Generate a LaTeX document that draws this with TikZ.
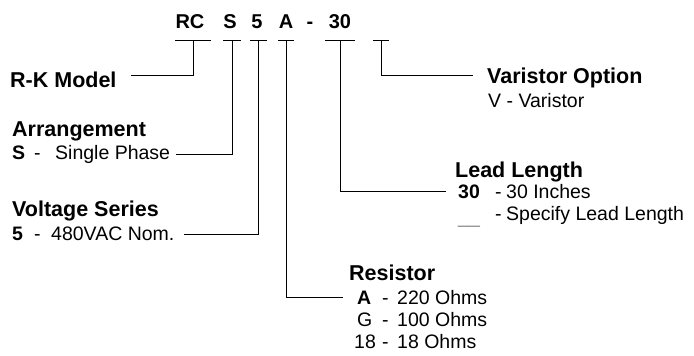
\documentclass[tikz,border=0pt]{standalone}
\usepackage{fontspec}
\setmainfont{Liberation Sans}
\tikzset{
  code/.style={anchor=base, inner sep=0pt, font=\fontsize{20}{24}\selectfont\bfseries},
  head/.style={anchor=base west, inner sep=0pt, font=\fontsize{21.5}{24}\selectfont\bfseries},
  txt/.style={anchor=base west, inner sep=0pt, font=\fontsize{19.5}{22}\selectfont},
  tbar/.style={line width=0.9pt},
  wire/.style={line width=0.9pt},
}
\begin{document}
\begin{tikzpicture}[x=1pt,y=-1pt]
\useasboundingbox (0,0) rectangle (694,356);

\node[code] (cRC) at (190,28) {RC};
\node[code] (cS) at (230,28) {S};
\node[code] (c5) at (257,28) {5};
\node[code] (cA) at (286,28) {A};
\node[code] (cDash) at (310,28) {-};
\node[code] (c30) at (340,28) {30};

\draw[tbar] (175,40) -- (211,40);
\draw[tbar] (223,40) -- (241,40);
\draw[tbar] (250,40) -- (267,40);
\draw[tbar] (278,40) -- (294,40);
\draw[tbar] (325,40) -- (355,40);
\draw[tbar] (373,40) -- (389,40);
\coordinate (tRC) at (193,40);
\coordinate (tS) at (232,40);
\coordinate (t5) at (258,40);
\coordinate (tA) at (286,40);
\coordinate (t30) at (340,40);
\coordinate (tV) at (381,40);

\node[head] (rk) at (10,87) {R-K Model};

\node[head] (arr) at (12,136) {Arrangement};
\node[txt] (arrS) at (12,159) {\makebox[22pt][l]{\bfseries S}\makebox[21pt][l]{-}Single Phase};

\node[head] (vol) at (12,216) {Voltage Series};
\node[txt] (vol5) at (12,240) {\makebox[22pt][l]{\bfseries 5}\makebox[17pt][l]{-}480VAC Nom.};

\node[head] (res) at (349,280) {Resistor};
\node[txt] (resA) at (357,304) {\makebox[25pt][l]{\bfseries A}\makebox[15pt][l]{-}220 Ohms};
\node[txt] (resG) at (357,326) {\makebox[25pt][l]{G}\makebox[15pt][l]{-}100 Ohms};
\node[txt] (res18) at (354,348) {\makebox[28pt][l]{18}\makebox[15pt][l]{-}18 Ohms};

\node[head] (lead) at (455,177) {Lead Length};
\node[txt] (lead30) at (458,198) {\makebox[37pt][l]{\bfseries 30}\makebox[11pt][l]{-}30 Inches};
\node[txt] (leadAny) at (458,220) {\makebox[37pt][l]{\raisebox{-3pt}{\color{black!45}\_\_}}\makebox[11pt][l]{-}Specify Lead Length};

\node[head] (var) at (487,83) {Varistor Option};
\node[txt] (varV) at (488,107) {V - Varistor};

\draw[wire] (tRC) |- ([xshift=14pt,yshift=4pt]rk.east);
\draw[wire] (tS) |- ([xshift=6pt]arrS.east);
\draw[wire] (t5) |- ([xshift=9pt,yshift=-1pt]vol5.east);
\draw[wire] (tA) |- ([xshift=-14pt]resA.west);
\draw[wire] (t30) |- ([xshift=-12pt]lead30.west);
\draw[wire] (tV) |- ([xshift=-14pt,yshift=2pt]var.west);
\end{tikzpicture}
\end{document}
